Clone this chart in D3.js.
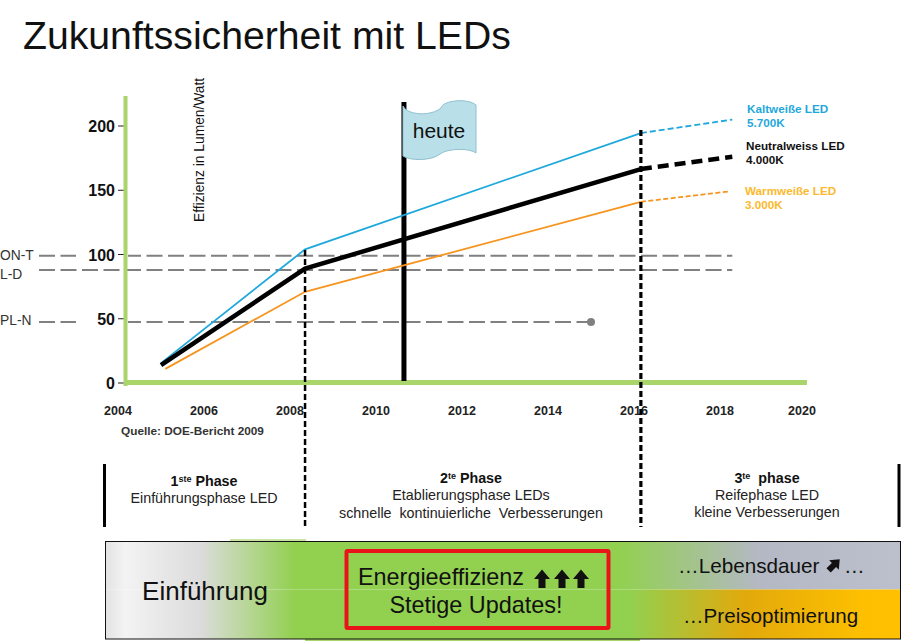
<!DOCTYPE html>
<html><head><meta charset="utf-8">
<script src="https://cdnjs.cloudflare.com/ajax/libs/d3/7.8.5/d3.min.js"></script>
<style>html,body{margin:0;padding:0;background:#fff}svg{display:block}text{font-family:"Liberation Sans",Arial,sans-serif}</style>
</head><body><svg id="c" width="903" height="642"></svg>
<script>
const yearTicks=[2004,2006,2008,2010,2012,2014,2016,2018,2020];
const valueTicks=[0,50,100,150,200];
const kaltYears=[2005,2008.35,2016.16,2018.3];
const kaltValues=[15.5,104,194.5,205];
const neutralYears=[2005,2008.35,2016.16,2018.3];
const neutralValues=[14,89,166.5,176];
const warmYears=[2005.1,2008.35,2016.16,2018.2];
const warmValues=[11,71,141,149];
const refNames=["ON-T","L-D","PL-N"];
const refValues=[99,88,47.5];
const refEnds=[2018.3,2018.3,2015];
const todayYear=2010.65;
const phaseYears=[2008.35,2016.16];

const svg=d3.select("#c");
const x=d3.scaleLinear().domain([2004,2018,2020]).range([118,720,802]);
const y=d3.scaleLinear().domain([0,200]).range([383,126]);
const defs=svg.append("defs");
function grad(id,stops){const g=defs.append("linearGradient").attr("id",id).attr("gradientUnits","userSpaceOnUse").attr("x1",105).attr("x2",901).attr("y1",0).attr("y2",0);
 stops.forEach(s=>g.append("stop").attr("offset",(s[0]-105)/796).attr("stop-color",s[1]));}
grad("gTop",[[105,"#e2e2e2"],[125,"#f3f3f3"],[200,"#dcdcdc"],[295,"#92d050"],[620,"#92d050"],[760,"#b4b8c4"],[901,"#bcc0cc"]]);
grad("gBot",[[105,"#e2e2e2"],[125,"#f3f3f3"],[200,"#dcdcdc"],[295,"#92d050"],[630,"#92d050"],[745,"#e2a90c"],[860,"#fdbf00"],[901,"#ffc000"]]);

svg.append("text").attr("x",23).attr("y",49).attr("font-size",39.2).attr("fill","#111").text("Zukunftssicherheit mit LEDs");

// reference lines
const refs=refNames.map((n,i)=>({n,v:refValues[i],e:refEnds[i]}));
svg.append("g").selectAll("line").data(refs).join("line").attr("x1",39).attr("x2",d=>x(d.e)).attr("y1",d=>y(d.v)).attr("y2",d=>y(d.v)).attr("stroke","#808080").attr("stroke-width",2).attr("stroke-dasharray","16,5.5");
svg.append("circle").attr("cx",x(refEnds[2])).attr("cy",y(refValues[2])).attr("r",4).attr("fill","#808080");
svg.append("g").selectAll("text").data(refs).join("text").attr("x",0).attr("y",(d,i)=>[260,279,325][i]).attr("font-size",13.8).attr("fill","#333").text(d=>d.n);

// y ticks (labels 50 and 100 sit on a white patch that interrupts the dashes)
svg.append("g").selectAll("rect").data(valueTicks.filter(v=>v===50||v===100)).join("rect").attr("x",76).attr("y",d=>y(d)-8).attr("width",52).attr("height",14).attr("fill","#fff");
const yg=svg.append("g").selectAll("g").data(valueTicks).join("g");
yg.append("line").attr("x1",118).attr("x2",124).attr("y1",d=>y(d)).attr("y2",d=>y(d)).attr("stroke","#222").attr("stroke-width",1);
yg.append("text").attr("x",115).attr("y",d=>y(d)+6).attr("text-anchor","end").attr("font-size",16).attr("font-weight","bold").attr("fill","#111").text(d=>d);

// axis lines
svg.append("line").attr("x1",125.5).attr("x2",125.5).attr("y1",96).attr("y2",386).attr("stroke","#a9d56b").attr("stroke-width",4);
svg.append("line").attr("x1",124).attr("x2",807).attr("y1",y(0)-.5).attr("y2",y(0)-.5).attr("stroke","#a9d56b").attr("stroke-width",5);

// x ticks
svg.append("g").selectAll("text").data(yearTicks).join("text").attr("x",d=>x(d)).attr("y",415).attr("text-anchor","middle").attr("font-size",12.5).attr("font-weight","bold").attr("fill","#222").text(d=>d);

svg.append("text").attr("transform","translate(204,222) rotate(-90)").attr("font-size",13.8).attr("fill","#111").text("Effizienz in Lumen/Watt");
svg.append("text").attr("x",121).attr("y",435).attr("font-size",11.8).attr("font-weight","bold").attr("fill","#333").text("Quelle: DOE-Bericht 2009");

// pole
svg.append("line").attr("x1",x(todayYear)).attr("x2",x(todayYear)).attr("y1",102).attr("y2",381).attr("stroke","#000").attr("stroke-width",5);

// series
const line=d3.line().x(d=>x(d[0])).y(d=>y(d[1]));
function series(xs,vs,col,w,dash){
 const p=xs.map((a,i)=>[a,vs[i]]);
 svg.append("path").attr("d",line(p.slice(0,3))).attr("fill","none").attr("stroke",col).attr("stroke-width",w);
 svg.append("path").attr("d",line(p.slice(2))).attr("fill","none").attr("stroke",col).attr("stroke-width",w).attr("stroke-dasharray",dash);
}
series(kaltYears,kaltValues,"#1fa8dc",1.8,"6,3");
series(warmYears,warmValues,"#f7941d",1.8,"5,2.5");
series(neutralYears,neutralValues,"#000",4.5,"11,6");

// flag
svg.append("path").attr("d","M403,106 C408,116 432,116 441,108 C443,100 468,98 476,105 L476,153 C470,148 448,148 440,154 C432,161 410,161 403,156 Z").attr("fill","#b9dfe9").attr("stroke","#8fc0cf").attr("stroke-width",1);
svg.append("text").attr("x",439).attr("y",138).attr("text-anchor","middle").attr("font-size",21).attr("fill","#111").text("heute");

// phase dashed
svg.append("g").selectAll("line").data(phaseYears).join("line").attr("x1",d=>x(d)).attr("x2",d=>x(d)).attr("y1",(d,i)=>[250,130][i]).attr("y2",527).attr("stroke","#000").attr("stroke-width",(d,i)=>[2.5,3.2][i]).attr("stroke-dasharray","6,3");

// legend
const lg=[["Kaltweiße LED","5.700K",747,113,"#1fa8dc"],["Neutralweiss LED","4.000K",746,150,"#111"],["Warmweiße LED","3.000K",745,195,"#fbb92e"]];
lg.forEach(l=>{svg.append("text").attr("x",l[2]).attr("y",l[3]).attr("font-size",11.7).attr("font-weight","bold").attr("fill",l[4]).text(l[0]);
 svg.append("text").attr("x",l[2]).attr("y",l[3]+14).attr("font-size",11.7).attr("font-weight","bold").attr("fill",l[4]).text(l[1]);});

// phase bars
[104.5,899].forEach(px=>svg.append("line").attr("x1",px).attr("x2",px).attr("y1",464).attr("y2",527).attr("stroke","#000").attr("stroke-width",3));
const phases=[
 {cx:204,head:["1","ste"," Phase"],hy:486,lines:[["Einführungsphase LED",503]]},
 {cx:471,head:["2","te"," Phase"],hy:483,lines:[["Etablierungsphase LEDs",500],["schnelle  kontinuierliche  Verbesserungen",518]]},
 {cx:767,head:["3","te","  phase"],hy:483,lines:[["Reifephase LED",500],["kleine Verbesserungen",517]]}];
phases.forEach(p=>{
 const t=svg.append("text").attr("x",p.cx).attr("y",p.hy).attr("text-anchor","middle").attr("font-size",14.3).attr("font-weight","bold").attr("fill","#111").style("white-space","pre");
 t.append("tspan").text(p.head[0]);
 t.append("tspan").attr("dy",-4).attr("font-size",9).text(p.head[1]);
 t.append("tspan").attr("dy",4).text(p.head[2]);
 p.lines.forEach(l=>svg.append("text").attr("x",p.cx).attr("y",l[1]).attr("text-anchor","middle").attr("font-size",14.3).attr("fill","#222").style("white-space","pre").text(l[0]));
});

// panel
svg.append("rect").attr("x",230).attr("y",539).attr("width",76).attr("height",3).attr("fill","#c9e4a4");
svg.append("rect").attr("x",305).attr("y",638).attr("width",335).attr("height",3).attr("fill","#a9d56b");
svg.append("rect").attr("x",105.5).attr("y",541.5).attr("width",795).attr("height",48).attr("fill","url(#gTop)");
svg.append("rect").attr("x",105.5).attr("y",589.5).attr("width",795).attr("height",49.5).attr("fill","url(#gBot)");
svg.append("rect").attr("x",105.5).attr("y",541.5).attr("width",795).attr("height",97.5).attr("fill","none").attr("stroke","#111").attr("stroke-width",1);
svg.append("rect").attr("x",346.5).attr("y",551).attr("width",262).attr("height",77).attr("fill","none").attr("stroke","#e9141a").attr("stroke-width",4).attr("rx",1);
const big=(s,px,py,fs,a)=>svg.append("text").attr("x",px).attr("y",py).attr("font-size",fs).attr("text-anchor",a||"start").attr("fill","#111").text(s);
big("Einführung",205,600,26,"middle");
big("Energieeffizienz",358,585,23.4);
big("Stetige Updates!",476,613,23.4,"middle");
big("…Lebensdauer",678,573,20.7);
big("…",844,573,20.7);
big("…Preisoptimierung",683,623,20.6);
// arrows
const up="M0,-9.5 L8,0 L3.5,0 L3.5,9 L-3.5,9 L-3.5,0 L-8,0 Z";
[542,562,581].forEach(ax=>svg.append("path").attr("d",up).attr("transform",`translate(${ax},579)`).attr("fill","#111"));
svg.append("path").attr("d",up).attr("transform","translate(834,565) rotate(45) scale(.85)").attr("fill","#111");
</script></body></html>
